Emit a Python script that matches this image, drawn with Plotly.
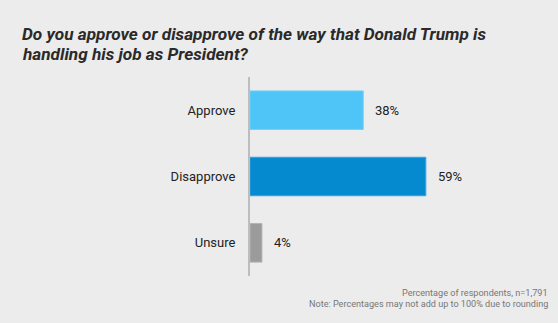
import plotly.graph_objects as go

categories = ["Approve", "Disapprove", "Unsure"]
values = [38, 59, 4]
bar_colors = ["#4fc4f7", "#0589cf", "#9b9b9b"]
edge_colors = ["#6fd0f9", "#3aa3dc", "#b0b0b0"]
value_labels = ["38%", "59%", "4%"]

title_lines = ["Do you approve or disapprove of the way that Donald Trump is",
               "handling his job as President?"]
note_lines = ["Percentage of respondents, n=1,791",
              "Note: Percentages may not add up to 100% due to rounding"]

bg = "#ececec"
W, H = 558, 323
L, R, T, B = 250, 10, 77, 47
plot_w, plot_h = W - L - R, H - T - B


def px_to_paper(px, py):
    return (px - L) / plot_w, (H - B - py) / plot_h


fig = go.Figure()
fig.add_trace(go.Bar(
    y=categories,
    x=values,
    orientation="h",
    width=0.58,
    marker=dict(color=bar_colors, line=dict(color=edge_colors, width=1)),
    hoverinfo="skip",
))

# value labels just to the right of each bar
for cat, val, lab in zip(categories, values, value_labels):
    fig.add_annotation(
        x=val, y=cat, xref="x", yref="y",
        text=lab, showarrow=False,
        xanchor="left", xshift=10,
        font=dict(family="Roboto", size=13, color="#222222"),
    )

# two-line bold italic heading
for i, line in enumerate(title_lines):
    tx, ty = px_to_paper(20, 33.5 + 20.5 * i)
    fig.add_annotation(
        x=tx, y=ty, xref="paper", yref="paper",
        text="<b><i>" + line + "</i></b>", showarrow=False,
        xanchor="left", yanchor="middle",
        font=dict(family="Roboto", size=17.2, color="#2a2a2a"),
    )

# footnote
for i, line in enumerate(note_lines):
    nx, ny = px_to_paper(550, 293 + 10.5 * i)
    fig.add_annotation(
        x=nx, y=ny, xref="paper", yref="paper",
        text=line, showarrow=False,
        xanchor="right", yanchor="middle",
        font=dict(family="Roboto", size=9.1, color="#777777"),
    )

fig.update_layout(
    width=W, height=H,
    margin=dict(l=L, r=R, t=T, b=B),
    paper_bgcolor=bg, plot_bgcolor=bg,
    showlegend=False,
    xaxis=dict(range=[0, 100], visible=False, fixedrange=True),
    yaxis=dict(
        autorange=False,
        range=[2.5, -0.5],
        showline=True, linecolor="#bdbdbd", linewidth=2,
        showgrid=False, zeroline=False,
        ticks="outside", ticklen=10, tickcolor="rgba(0,0,0,0)",
        tickfont=dict(family="Roboto", size=13, color="#222222"),
    ),
)

fig.write_html("out.html")
